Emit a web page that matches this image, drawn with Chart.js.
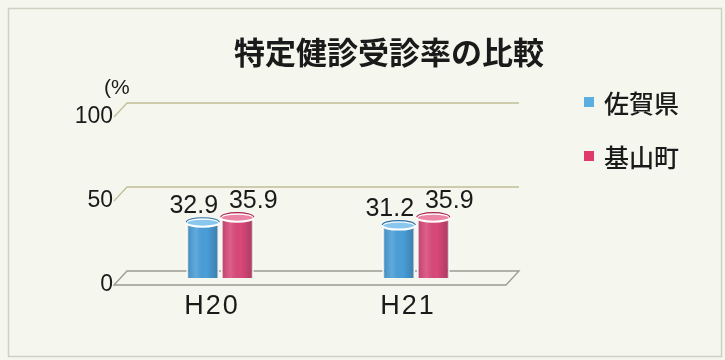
<!DOCTYPE html>
<html>
<head>
<meta charset="utf-8">
<script src="https://cdn.jsdelivr.net/npm/chart.js@4/dist/chart.umd.min.js"></script>
<style>
  body { margin: 0; background: #f5f7ee; }
  #wrap { width: 725px; height: 360px; position: relative; }
</style>
</head>
<body>
<div id="wrap"><canvas id="grafico"></canvas></div>
<script>
const titulo = "特定健診受診率の比較";
const anios = ["H20", "H21"];
const series = ["佐賀県", "基山町"];
const sagaKen = [32.9, 31.2];
const kiyamaCho = [35.9, 35.9];
const ticksY = [0, 50, 100];

const colores = ["#4a9fd9", "#d9497a"];
const coloresTapa = ["#8ac7ee", "#ec86a6"];
const coloresBorde = ["#2a6fa8", "#a8204e"];
const coloresLeyenda = ["#5aaee2", "#e03a6a"];

const FUENTE = "'Liberation Sans', Arial, sans-serif";
const FUENTE_JP = "'Noto Sans CJK JP', sans-serif";

// marco 3D: desplazamientos frente / fondo
const dxF = -8, dyF = 7, dxB = 5, dyB = -7;

const marco3d = {
  id: "marco3d",
  beforeDatasetsDraw(chart) {
    const { ctx, chartArea: a, scales: { y } } = chart;
    ctx.save();
    ctx.lineWidth = 1.3;
    ticksY.forEach(v => {
      const py = y.getPixelForValue(v);
      ctx.strokeStyle = v === 0 ? "#9a9a90" : "#c0bf96";
      ctx.beginPath();
      ctx.moveTo(a.left + dxF, py + dyF);
      ctx.lineTo(a.left + dxB, py + dyB);
      ctx.lineTo(a.right + dxB, py + dyB);
      if (v === 0) {
        ctx.lineTo(a.right + dxF, py + dyF);
        ctx.closePath();
      }
      ctx.stroke();
    });
    ctx.restore();
  },
  afterDatasetsDraw(chart) {
    const { ctx, scales: { x } } = chart;
    ctx.save();
    chart.data.datasets.forEach((ds, di) => {
      chart.getDatasetMeta(di).data.forEach((bar, i) => {
        const w = bar.width, l = bar.x - w / 2;
        // sombreado cilíndrico
        const g = ctx.createLinearGradient(l, 0, l + w, 0);
        g.addColorStop(0, "rgba(0,0,0,0.15)");
        g.addColorStop(0.3, "rgba(255,255,255,0.12)");
        g.addColorStop(0.6, "rgba(0,0,0,0)");
        g.addColorStop(1, "rgba(0,0,0,0.22)");
        ctx.fillStyle = g;
        ctx.fillRect(l + 1, bar.y, w - 2, bar.base - bar.y);
        // tapa superior
        ctx.beginPath();
        ctx.ellipse(bar.x, bar.y, w / 2, 4, 0, 0, Math.PI * 2);
        ctx.fillStyle = coloresTapa[di];
        ctx.fill();
        ctx.lineWidth = 2;
        ctx.strokeStyle = "#ffffff";
        ctx.stroke();
        ctx.beginPath();
        ctx.ellipse(bar.x, bar.y - 0.5, w / 2, 4.5, 0, Math.PI, Math.PI * 2);
        ctx.lineWidth = 1.2;
        ctx.strokeStyle = coloresBorde[di];
        ctx.stroke();
        // valor
        ctx.fillStyle = "#1a1a1a";
        ctx.font = "25px " + FUENTE;
        ctx.textAlign = "center";
        ctx.textBaseline = "alphabetic";
        const off = di === 0 ? -9 : 16;
        ctx.fillText(ds.data[i].toFixed(1), bar.x + off, bar.y - 10);
      });
    });
    // etiquetas del eje X
    ctx.fillStyle = "#1a1a1a";
    ctx.font = "27px " + FUENTE;
    ctx.letterSpacing = "2px";
    ctx.textAlign = "center";
    ctx.textBaseline = "middle";
    anios.forEach((t, i) => {
      ctx.fillText(t, x.getPixelForValue(i) - 8, 307);
    });
    ctx.restore();
  },
  afterDraw(chart) {
    const { ctx } = chart;
    ctx.save();
    // borde
    ctx.strokeStyle = "#cfd0c4";
    ctx.lineWidth = 1.5;
    ctx.strokeRect(8.5, 8.5, 713, 348);
    // título
    ctx.fillStyle = "#1a1a1a";
    ctx.font = "bold 31px " + FUENTE_JP;
    ctx.textAlign = "center";
    ctx.textBaseline = "middle";
    ctx.fillText(titulo, 389, 52);
    // unidad
    ctx.font = "21px " + FUENTE;
    ctx.textAlign = "left";
    ctx.fillText("(%", 104, 88);
    // leyenda
    series.forEach((s, i) => {
      const cy = 102 + i * 54;
      ctx.fillStyle = coloresLeyenda[i];
      ctx.fillRect(584, cy - 5, 10, 10);
      ctx.fillStyle = "#1a1a1a";
      ctx.font = "500 25px " + FUENTE_JP;
      ctx.fillText(s, 604, cy + 1);
    });
    ctx.restore();
  }
};

new Chart(document.getElementById("grafico"), {
  type: "bar",
  data: {
    labels: anios,
    datasets: [
      { label: series[0], data: sagaKen, backgroundColor: colores[0], borderColor: "#ffffff", borderWidth: 2 },
      { label: series[1], data: kiyamaCho, backgroundColor: colores[1], borderColor: "#ffffff", borderWidth: 2 }
    ]
  },
  options: {
    responsive: true,
    maintainAspectRatio: false,
    animation: false,
    categoryPercentage: 0.352,
    barPercentage: 0.956,
    layout: { padding: { left: 72, right: 211, top: 110, bottom: 42 } },
    plugins: {
      legend: { display: false },
      title: { display: false },
      tooltip: { enabled: false }
    },
    scales: {
      x: {
        grid: { display: false },
        border: { display: false },
        ticks: { display: false },
        afterFit(s) { s.height = 40; }
      },
      y: {
        min: 0,
        max: 100,
        afterBuildTicks(s) { s.ticks = ticksY.map(v => ({ value: v })); },
        grid: { display: false, drawTicks: false },
        border: { display: false },
        ticks: {
          padding: 9,
          labelOffset: 7,
          color: "#1a1a1a",
          font: { size: 23, family: FUENTE }
        },
        afterFit(s) { s.width = 50; }
      }
    }
  },
  plugins: [marco3d]
});
</script>
</body>
</html>
